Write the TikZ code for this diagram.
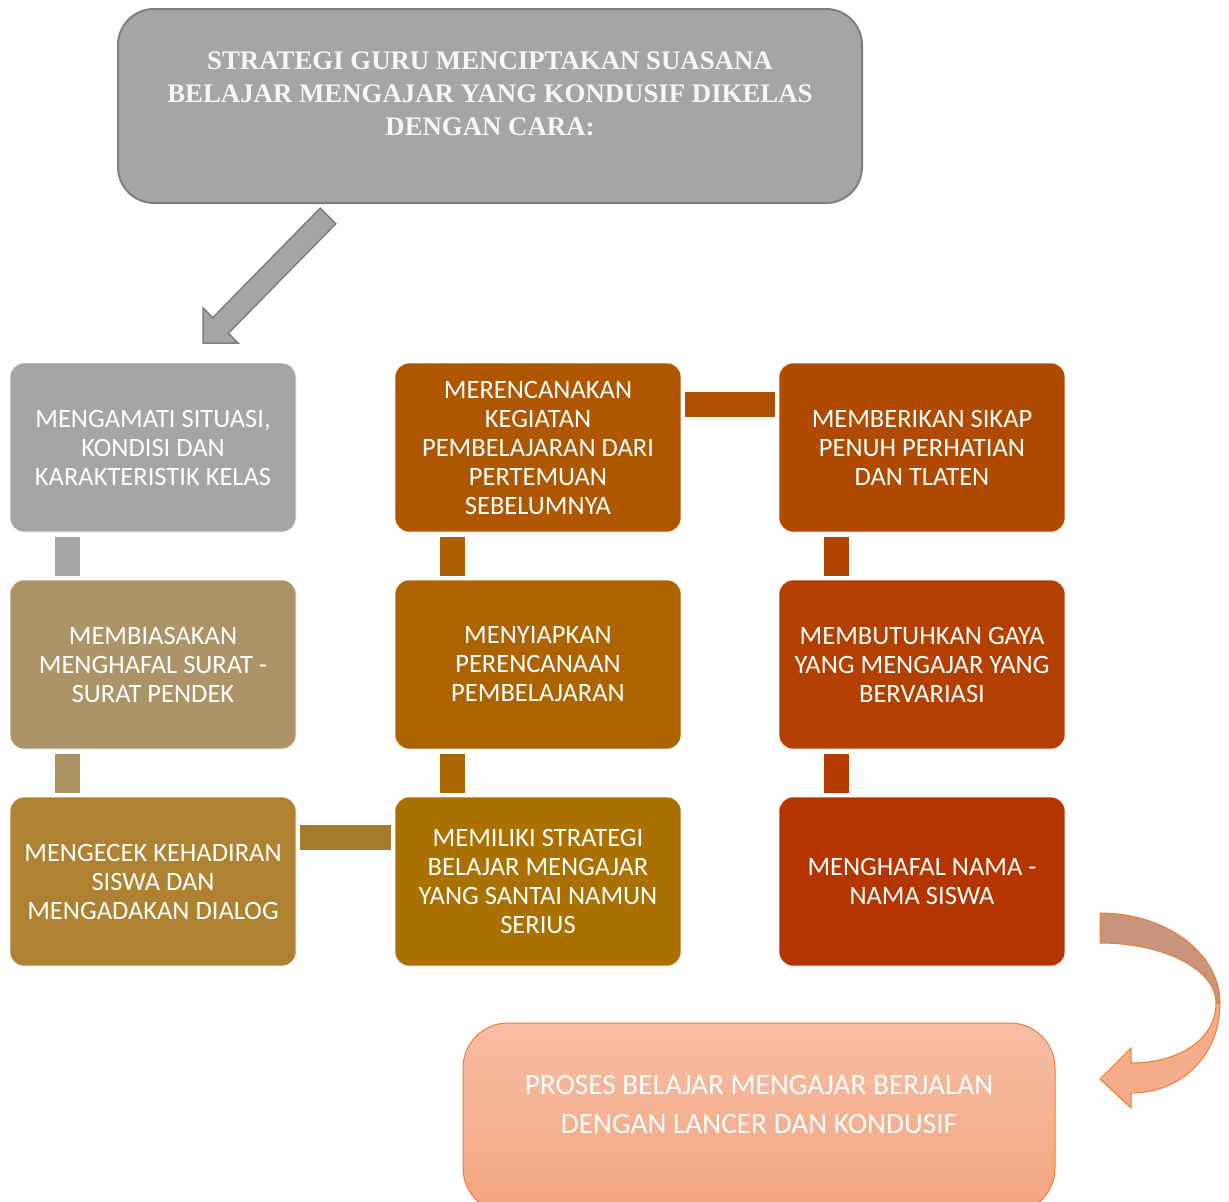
\documentclass[tikz,border=0pt]{standalone}
\usepackage{fontspec}
\setmainfont{Carlito}
\newfontfamily\titlefont{Liberation Serif}
\definecolor{cGray}{HTML}{A5A5A5}
\definecolor{cGrayD}{HTML}{7F7F7F}
\definecolor{cTan}{HTML}{AD9468}
\definecolor{cMus}{HTML}{AE8230}
\definecolor{cB1}{HTML}{AE5700}
\definecolor{cB2}{HTML}{AC6300}
\definecolor{cB3}{HTML}{AA7000}
\definecolor{cC1}{HTML}{B04A00}
\definecolor{cC2}{HTML}{B33F00}
\definecolor{cC3}{HTML}{B53500}
\definecolor{cOr}{HTML}{ED7D31}
\definecolor{cBack}{HTML}{C8957C}
\definecolor{cFront}{HTML}{F5AC8A}
\definecolor{cResTop}{HTML}{F7BEA5}
\definecolor{cResBot}{HTML}{F4A47F}
\begin{document}
\begin{tikzpicture}[x=1pt,y=-1pt,
  box/.style={rectangle, rounded corners=14pt, minimum width=286pt, minimum height=169pt,
    inner sep=0pt, outer sep=0pt, text=white, align=center,
    font=\fontsize{26.5}{29}\selectfont, draw=white, line width=0.6pt},
  bar/.style={line width=25pt, draw=#1},
]
\clip (0,0) rectangle (1229,1202);
\fill[white] (0,0) rectangle (1229,1202);

% title
\node[draw=cGrayD, line width=2pt, fill=cGray, rounded corners=36pt,
  minimum width=744pt, minimum height=194pt, inner sep=0pt] (title) at (490,106) {};
\node[font=\titlefont\bfseries\fontsize{26.8}{33}\selectfont, text=white!97!black, align=center]
  (titletext) at (490,94) {STRATEGI GURU MENCIPTAKAN SUASANA\\BELAJAR MENGAJAR YANG KONDUSIF DIKELAS\\DENGAN CARA:};

% grid
\node[box, fill=cGray] (n11) at (153,447.5) {MENGAMATI SITUASI,\\KONDISI DAN\\KARAKTERISTIK KELAS};
\node[box, fill=cTan]  (n21) at (153,664.5) {MEMBIASAKAN\\MENGHAFAL SURAT -\\SURAT PENDEK};
\node[box, fill=cMus]  (n31) at (153,881.5) {MENGECEK KEHADIRAN\\SISWA DAN\\MENGADAKAN DIALOG};
\node[box, fill=cB1] (n12) at (538,447.5) {MERENCANAKAN\\KEGIATAN\\PEMBELAJARAN DARI\\PERTEMUAN\\SEBELUMNYA};
\node[box, fill=cB2] (n22) at (538,664.5) {MENYIAPKAN\\PERENCANAAN\\PEMBELAJARAN};
\node[box, fill=cB3] (n32) at (538,881.5) {MEMILIKI STRATEGI\\BELAJAR MENGAJAR\\YANG SANTAI NAMUN\\SERIUS};
\node[box, fill=cC1] (n13) at (922,447.5) {MEMBERIKAN SIKAP\\PENUH PERHATIAN\\DAN TLATEN};
\node[box, fill=cC2] (n23) at (922,664.5) {MEMBUTUHKAN GAYA\\YANG MENGAJAR YANG\\BERVARIASI};
\node[box, fill=cC3] (n33) at (922,881.5) {MENGHAFAL NAMA -\\NAMA SISWA};

% connector bars
\draw[bar=cGray] ([shift={(57.5,4.5)}]n11.south west) -- ([shift={(57.5,-4)}]n21.north west);
\draw[bar=cTan!92!cMus] ([shift={(57.5,4.5)}]n21.south west) -- ([shift={(57.5,-4)}]n31.north west);
\draw[bar=cMus!95!black] ([shift={(4,40.5)}]n31.north east) -- ([shift={(-4,40.5)}]n32.north west);
\draw[bar=cB1!60!cB2] ([shift={(57.5,4.5)}]n12.south west) -- ([shift={(57.5,-4)}]n22.north west);
\draw[bar=cB2!60!cB3] ([shift={(57.5,4.5)}]n22.south west) -- ([shift={(57.5,-4)}]n32.north west);
\draw[bar=cB1!50!cC1] ([shift={(4,41)}]n12.north east) -- ([shift={(-4,41)}]n13.north west);
\draw[bar=cC1!50!cC2] ([shift={(57,4.5)}]n13.south west) -- ([shift={(57,-4)}]n23.north west);
\draw[bar=cC2!50!cC3] ([shift={(57,4.5)}]n23.south west) -- ([shift={(57,-4)}]n33.north west);

% straight block arrow from title to first box
\draw[fill=cGray, draw=cGrayD, line width=1.5pt, line join=miter]
  (320.2,208.2) -- (335.8,223.8) -- (228.3,333.3) -- (238,343) -- (203,343)
  -- (203,308) -- (212.7,317.7) -- cycle;

% result box
\node[rounded corners=45pt, minimum width=592pt, minimum height=190pt, inner sep=0pt,
  top color=cResTop, bottom color=cResBot, draw=cOr, line width=1pt]
  (result) at (759,1118) {};
\node[font=\fontsize{29.3}{39}\selectfont, text=white, align=center]
  (resulttext) at (759,1104.5) {PROSES BELAJAR MENGAJAR BERJALAN\\DENGAN LANCER DAN KONDUSIF};

% curved arrow
\draw[fill=cBack, draw=cOr, line width=1pt, line join=round]
  (1100,913) .. controls (1166,913) and (1220,953) .. (1220,1003)
  -- (1216,1003) .. controls (1216,970) and (1165,943) .. (1100,943) -- cycle;
\draw[fill=cFront, draw=cOr, line width=1pt, line join=miter]
  (1220,1003) .. controls (1220,1055) and (1182,1093) .. (1131,1093)
  -- (1131,1108) -- (1100,1079) -- (1131,1048) -- (1131,1063)
  .. controls (1178,1063) and (1216,1040) .. (1216,1003) -- cycle;
\end{tikzpicture}
\end{document}
